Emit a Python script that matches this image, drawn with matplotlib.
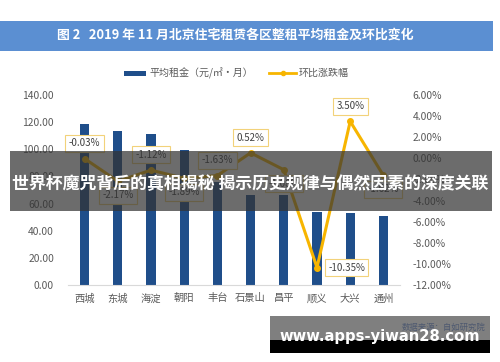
import matplotlib
matplotlib.use("Agg")
import matplotlib.pyplot as plt
from matplotlib.patches import Rectangle
from matplotlib.lines import Line2D

plt.rcParams['font.family'] = ['Noto Sans CJK SC', 'DejaVu Sans']

districts = ["西城", "东城", "海淀", "朝阳", "丰台", "石景山", "昌平", "顺义", "大兴", "通州"]
avg_rent = [118.5, 113.5, 111.5, 99.5, 76.0, 66.5, 66.0, 54.0, 53.0, 51.0]
mom_change = [-0.03, -2.17, -1.12, -1.89, -1.63, 0.52, -1.08, -10.35, 3.50, -1.62]
label_side = ["up", "down", "up", "down", "up", "up", "down", "right", "up", "down"]
left_ticks = [0, 20, 40, 60, 80, 100, 120, 140]
right_ticks = [-12, -10, -8, -6, -4, -2, 0, 2, 4, 6]

W, H = 500, 362
fig = plt.figure(figsize=(W / 100, H / 100), dpi=100)

def fx(px):
    return px / W

def fy(py):
    return 1 - py / H

# title banner
fig.patches.append(Rectangle((fx(0), fy(51)), fx(493), 30 / H, transform=fig.transFigure,
                             facecolor='#5b8fd2', edgecolor='none', zorder=0))
fig.text(fx(235), fy(35), "图 2   2019 年 11 月北京住宅租赁各区整租平均租金及环比变化",
         color='white', fontsize=9.3, fontweight='bold', ha='center', va='center')

# axes
ax = fig.add_axes([fx(68), fy(285), fx(332), 190 / H])
x = list(range(len(districts)))
bar_color = '#1f4e8a'
line_color = '#f7b500'
ax.bar(x, avg_rent, width=0.28, color=bar_color, zorder=2)
ax.set_xlim(-0.5, len(districts) - 0.5)
ax.set_ylim(0, 140)
ax.set_yticks(left_ticks)
ax.set_yticklabels([f"{v:.2f}" for v in left_ticks])
ax.set_xticks(x)
ax.set_xticklabels(districts)
for s in ['top', 'right', 'left']:
    ax.spines[s].set_visible(False)
ax.spines['bottom'].set_color('#d9d9d9')
ax.tick_params(axis='both', length=0, colors='#595959', labelsize=7.4)
ax.tick_params(axis='y', pad=10)
ax.tick_params(axis='x', pad=6)

ax2 = ax.twinx()
ax2.plot(x, mom_change, color=line_color, linewidth=2.2, marker='o', markersize=4, zorder=3)
ax2.set_ylim(-12, 6)
ax2.set_yticks(right_ticks)
ax2.set_yticklabels([f"{v:.2f}%" for v in right_ticks])
for s in ['top', 'right', 'left', 'bottom']:
    ax2.spines[s].set_visible(False)
ax2.tick_params(axis='y', length=0, colors='#595959', labelsize=7.4, pad=9)

for xi, v, side in zip(x, mom_change, label_side):
    if side == "up":
        off, ha = (0, 11), 'center'
    elif side == "down":
        off, ha = (0, -10), 'center'
    else:
        off, ha = (8, 0), 'left'
    ax2.annotate(f"{v:.2f}%", (xi, v), xytext=off, textcoords='offset points',
                 ha=ha, va='center', fontsize=7, color='#404040', zorder=5,
                 bbox=dict(boxstyle='square,pad=0.35', facecolor='white',
                           edgecolor='#f2d27a', linewidth=0.8))

# legend
fig.patches.append(Rectangle((fx(124), fy(75.5)), fx(22), 5 / H, transform=fig.transFigure,
                             facecolor=bar_color, edgecolor='none'))
fig.text(fx(150), fy(73), "平均租金（元/㎡·月）", fontsize=7.2, color='#595959', va='center', ha='left')
fig.lines.append(Line2D([fx(269), fx(296)], [fy(73), fy(73)], transform=fig.transFigure,
                        color=line_color, linewidth=2))
fig.lines.append(Line2D([fx(282.5)], [fy(73)], transform=fig.transFigure, color=line_color,
                        marker='o', markersize=3))
fig.text(fx(299), fy(73), "环比涨跌幅", fontsize=7.2, color='#595959', va='center', ha='left')

# overlay band
fig.patches.append(Rectangle((fx(10), fy(211)), fx(482), 60 / H, transform=fig.transFigure,
                             facecolor='#333333', alpha=0.72, edgecolor='none', zorder=10))
fig.text(fx(250), fy(184), "世界杯魔咒背后的真相揭秘 揭示历史规律与偶然因素的深度关联",
         color='white', fontsize=12.2, fontweight='bold', ha='center', va='center', zorder=11)

# bottom watermark
fig.patches.append(Rectangle((fx(270), fy(340)), fx(220), 24 / H, transform=fig.transFigure,
                             facecolor='#7f7f7f', edgecolor='none', zorder=10))
fig.patches.append(Rectangle((fx(270), fy(353)), fx(220), 13 / H, transform=fig.transFigure,
                             facecolor='black', edgecolor='none', zorder=10))
fig.text(fx(485), fy(327), "数据来源：自如研究院", color='#3a4a6a', fontsize=6, ha='right',
         va='center', zorder=11, alpha=0.7)
fig.text(fx(380), fy(337), "www.apps-yiwan28.com", color='white', fontsize=10.6,
         fontweight='bold', ha='center', va='center', zorder=12, family=['DejaVu Sans'])

fig.savefig("out.png", dpi=100)
